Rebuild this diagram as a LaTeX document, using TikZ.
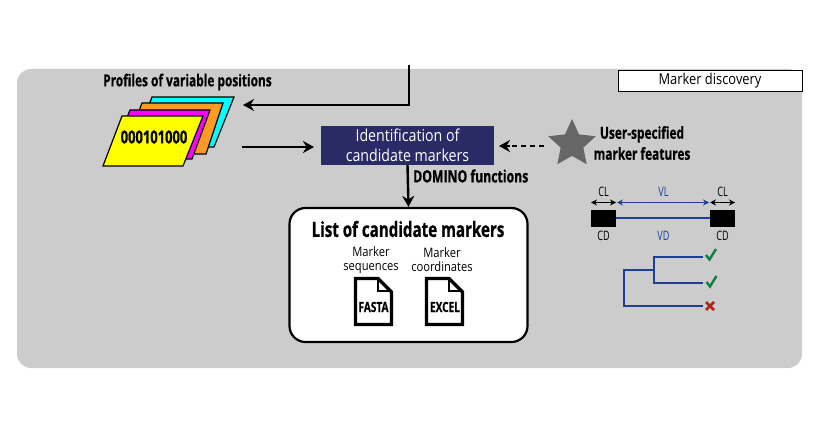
\documentclass[tikz,border=0pt]{standalone}
\usepackage{fontspec}
\setmainfont{Open Sans}[FakeStretch=0.86]
\newfontfamily\bcond{Open Sans}[FakeStretch=0.72,BoldFeatures={FakeStretch=0.72,FakeBold=0.6}]
\newfontfamily\rcond{Open Sans}[FakeStretch=0.70]
\usetikzlibrary{shapes.geometric,arrows.meta}
\definecolor{panelgray}{HTML}{CCCCCC}
\definecolor{navybox}{HTML}{2A2A66}
\definecolor{darkblue}{HTML}{1F3F94}
\definecolor{stargray}{HTML}{666666}
\definecolor{okgreen}{HTML}{0F7F3F}
\definecolor{badred}{HTML}{A5281B}
\definecolor{cardcyan}{HTML}{00FFFF}
\definecolor{cardorange}{HTML}{FF9A22}
\definecolor{cardmagenta}{HTML}{FF00FF}
\definecolor{cardyellow}{HTML}{FFFF00}
\tikzset{
  x=1pt,y=-1pt,
  txt/.style={inner sep=0pt,align=center,text=black,font=\fontsize{#1}{#1}\selectfont},
  btxt/.style={inner sep=0pt,align=center,text=black,font=\bcond\fontsize{#1}{#1}\selectfont\bfseries},
  ctxt/.style={inner sep=0pt,align=center,text=black,font=\rcond\fontsize{#1}{#1}\selectfont},
  mainarrow/.style={draw=black,line width=2.4pt,-{Stealth[length=11pt,width=12pt]}},
  card/.style={draw=black,line width=1.2pt,line join=miter},
  docshape/.style={draw=black,line width=3.4pt,fill=white,line join=miter},
  dimblack/.style={draw=black,line width=.9pt,{Stealth[length=6pt,width=6pt]}-{Stealth[length=6pt,width=6pt]}},
  dimblue/.style={draw=darkblue,line width=.9pt,{Stealth[length=6pt,width=6pt]}-{Stealth[length=6pt,width=6pt]}},
  treeline/.style={draw=darkblue,line width=2pt,line join=miter},
  tick/.style={draw=okgreen,line width=2.4pt},
  crossmark/.style={draw=badred,line width=2.8pt},
  blackbox/.style={fill=black,draw=none,minimum width=25pt,minimum height=17pt,inner sep=0pt},
}
\begin{document}
\begin{tikzpicture}
\useasboundingbox (0,0) rectangle (821,435);
\fill[panelgray,rounded corners=14pt] (17,69) -- (802,69) -- (802,368) -- (17,368) -- cycle;
\node[draw=black,line width=1pt,fill=white,minimum width=184pt,minimum height=21pt,inner sep=0pt,txt=15] (title) at (710,81) {Marker discovery};
\node[btxt=16.5] (profiles) at (187.5,82) {Profiles of variable positions};
% stacked cards
\draw[card,fill=cardcyan] (152,97) -- (234,97) -- (214,147) -- (133,147) -- cycle;
\draw[card,fill=cardorange] (142,103) -- (223,103) -- (206,154) -- (123,154) -- cycle;
\draw[card,fill=cardmagenta] (130,110) -- (210,110) -- (192,159) -- (110,159) -- cycle;
\draw[card,fill=cardyellow] (122,116) -- (203,116) -- (183,166) -- (103,166) -- cycle;
\node[btxt=18] (bits) at (154,137) {000101000};
\coordinate (feedtop) at (409,65);
\coordinate (feedcorner) at (409,105);
\coordinate (feedend) at (243,105);
\coordinate (cardsout) at (242,147);
\coordinate (identin) at (314,147);
\coordinate (dashstart) at (544,146);
\coordinate (dashend) at (499,146);
\node[fill=navybox,minimum width=173pt,minimum height=39pt,inner sep=0pt,align=center,text=white,font=\fontsize{16.5}{19.5}\selectfont] (ident) at (407.5,145.5) {Identification of\\candidate markers};
\node[star,star points=5,star point ratio=2.1,fill=stargray,inner sep=0pt,minimum size=50pt] (star) at (572,144) {};
\node[btxt=16,font=\bcond\fontsize{16.5}{21}\selectfont\bfseries] (user) at (642,143) {User-specified\\marker features};
\node[draw=black,line width=2.2pt,fill=white,rounded corners=16pt,minimum width=238pt,minimum height=134pt,inner sep=0pt] (list) at (408.5,275) {};
\node[btxt=21] (listtitle) at (408,229) {List of candidate markers};
\node[btxt=17,anchor=west] (domino) at (413,176) {DOMINO functions};
\draw[mainarrow] (feedtop) -- (feedcorner) -- (feedend);
\draw[mainarrow] (cardsout) -- (identin);
\draw[mainarrow] (ident.south) -- (list.north);
\draw[draw=black,line width=2.2pt,dash pattern=on 5pt off 4pt] (dashstart) -- (509,146);
\draw[draw=black,line width=2.2pt,-{Stealth[length=11pt,width=12pt]}] (510,146) -- (dashend);
% documents
\node[txt=13,font=\fontsize{13}{14}\selectfont] (seqlabel) at (371,260) {Marker\\sequences};
\node[txt=13,font=\fontsize{13}{14}\selectfont] (coordlabel) at (442,260) {Marker\\coordinates};
\draw[docshape] (355.5,278.5) -- (378,278.5) -- (391.5,292) -- (391.5,324.5) -- (355.5,324.5) -- cycle;
\draw[black,line width=2pt,line join=miter] (378,278.5) -- (378,291) -- (391.5,291);
\node[btxt=14] (fasta) at (373.5,307) {FASTA};
\draw[docshape] (426.5,278.5) -- (449,278.5) -- (462.5,292) -- (462.5,324.5) -- (426.5,324.5) -- cycle;
\draw[black,line width=2pt,line join=miter] (449,278.5) -- (449,291) -- (462.5,291);
\node[btxt=14] (excel) at (445,307) {EXCEL};
% domain schematic
\node[blackbox] (cdl) at (603.5,218.5) {};
\node[blackbox] (cdr) at (722.5,218.5) {};
\draw[draw=darkblue,line width=2pt] (cdl) -- (cdr);
\draw[dimblack] (591,202.5) -- (616,202.5);
\draw[dimblack] (710,202.5) -- (735,202.5);
\draw[dimblue] (617,202.5) -- (709,202.5);
\node[ctxt=13] (cl1) at (603.5,192) {CL};
\node[ctxt=13,text=darkblue] (vl) at (663.5,192) {VL};
\node[ctxt=13] (cl2) at (722.5,192) {CL};
\node[ctxt=13] (cd1) at (603.5,236) {CD};
\node[ctxt=13,text=darkblue] (vd) at (663.5,236) {VD};
\node[ctxt=13] (cd2) at (722.5,236) {CD};
% tree
\draw[treeline] (703,257) -- (654,257) -- (654,283.5) -- (703,283.5);
\draw[treeline] (654,270) -- (623.5,270) -- (623.5,306) -- (703,306);
\draw[tick] (706,255) -- (709.5,259.5) -- (716,249);
\draw[tick] (706.5,282) -- (710,286.5) -- (716.5,276);
\draw[crossmark] (706,302) -- (714,310) (714,302) -- (706,310);
\end{tikzpicture}
\end{document}
